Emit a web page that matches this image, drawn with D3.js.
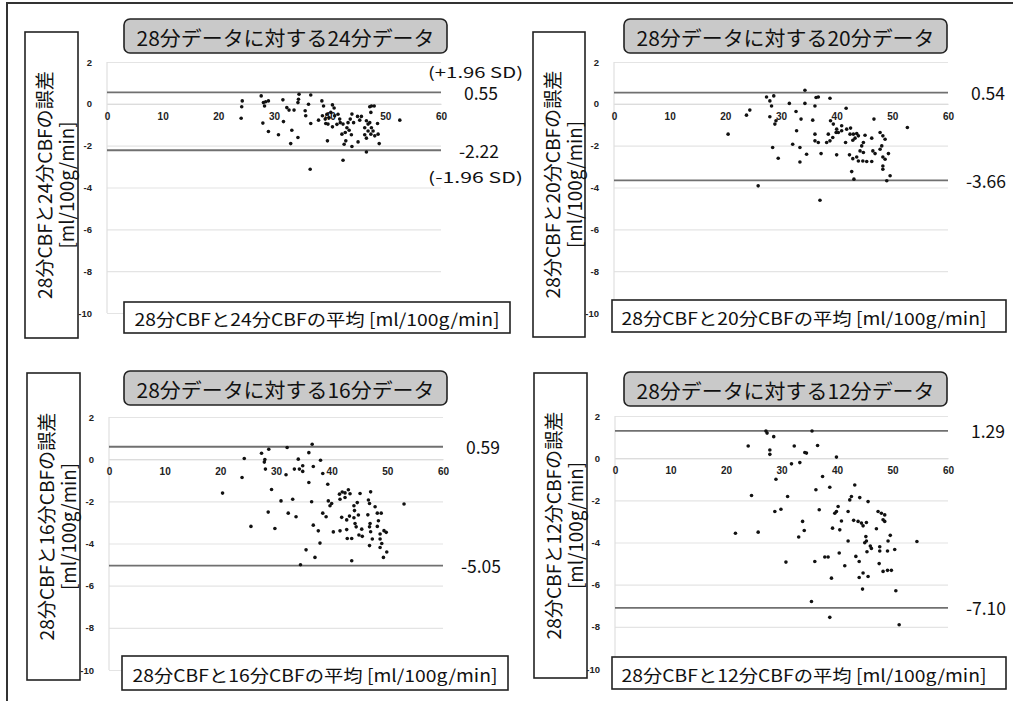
<!DOCTYPE html>
<html>
<head>
<meta charset="utf-8">
<script src="https://cdn.jsdelivr.net/npm/d3@7"></script>
<style>
  body { margin: 0; background: #fff; }
  svg { display: block; font-family: "Noto Sans CJK JP", "Noto Sans", sans-serif; }
</style>
</head>
<body>
<svg id="chart" width="1016" height="701"></svg>
<script>
// comparison data length (minutes) against the 28 min reference
const minutes = [24, 20, 16, 12];
const upperLimits = [0.55, 0.54, 0.59, 1.29];
const lowerLimits = [-2.22, -3.66, -5.05, -7.10];
const upperText = ['0.55', '0.54', '0.59', '1.29'];
const lowerText = ['-2.22', '-3.66', '-5.05', '-7.10'];
const xTicks = [0, 10, 20, 30, 40, 50, 60];
const yTicks = [2, 0, -2, -4, -6, -8, -10];

// [mean of the two CBF, difference]
const pts24 = [[24.3,0.14],[24.2,-0.14],[24.1,-0.69],[27.7,0.38],[28.1,0.06],[28.5,0.10],[29.0,0.14],[28.3,-0.10],[28.0,-0.92],[29.0,-1.32],[30.8,-1.48],[31.6,0.19],[32.3,-0.18],[32.7,-0.30],[33.6,-0.30],[31.7,-0.85],[33.2,-1.26],[34.3,-1.61],[33.0,-1.90],[34.5,0.46],[34.4,0.22],[34.3,0.06],[36.6,0.42],[36.2,-0.02],[35.6,-0.33],[35.7,-0.57],[36.6,-0.94],[36.5,-3.13],[38.6,0.14],[38.9,-0.10],[38.0,-0.78],[38.7,-0.57],[39.2,-0.73],[39.5,-0.50],[39.3,-0.94],[39.9,-0.67],[40.2,-0.41],[40.5,-0.05],[40.8,-0.20],[40.9,-0.57],[41.5,-0.50],[40.5,-1.10],[41.3,-0.98],[41.9,-0.90],[39.6,-1.77],[42.4,-0.97],[42.2,-1.45],[42.8,-1.37],[43.1,-1.14],[43.3,-0.90],[43.7,-0.73],[44.0,-0.49],[44.3,-0.90],[43.5,-1.26],[43.9,-1.48],[42.9,-1.77],[42.6,-1.93],[44.0,-2.04],[45.1,-1.82],[42.4,-2.70],[45.0,-0.60],[45.4,-0.78],[45.7,-0.60],[46.6,-0.81],[46.3,-1.14],[46.9,-1.30],[46.3,-1.48],[46.6,-1.64],[46.9,-0.97],[46.6,-2.30],[47.2,-0.14],[47.5,-0.10],[48.0,-0.10],[47.4,-0.41],[47.2,-0.90],[47.5,-1.14],[47.4,-1.45],[47.8,-1.30],[48.1,-1.53],[48.7,-1.45],[48.9,-1.90],[52.6,-0.78],[39.7,-0.97],[41.8,-0.73],[48.6,-0.94]];

const pts20 = [[34.3,0.65],[27.4,0.33],[28.7,0.38],[28.0,0.14],[28.3,-0.10],[24.4,-0.30],[23.8,-0.54],[20.5,-1.45],[28.0,-0.62],[29.1,-0.81],[28.9,-0.97],[31.5,0.02],[34.3,0.02],[36.3,0.30],[36.7,0.33],[36.1,-0.10],[38.8,0.27],[32.7,-0.37],[33.6,-0.73],[35.7,-0.78],[32.8,-1.29],[32.1,-1.93],[33.4,-2.09],[28.5,-2.09],[29.5,-2.60],[33.4,-2.78],[34.6,-2.41],[37.2,-2.38],[36.1,-1.45],[36.1,-1.77],[36.7,-1.85],[38.2,-1.85],[38.8,-1.77],[38.5,-1.45],[39.3,-1.61],[38.9,-0.81],[39.4,-0.97],[40.0,-1.21],[39.9,-1.37],[40.3,-1.37],[40.9,-1.29],[40.9,-1.05],[41.7,-0.21],[41.8,-1.21],[42.5,-1.16],[42.4,-1.45],[41.6,-1.85],[40.0,-2.44],[43.0,-1.45],[43.6,-1.42],[43.3,-1.64],[42.9,-1.74],[43.9,-1.53],[45.1,-1.50],[44.8,-1.85],[44.5,-2.01],[44.2,-2.25],[44.8,-2.33],[42.3,-2.44],[42.9,-2.62],[43.6,-2.54],[43.9,-2.73],[44.7,-2.73],[45.4,-2.76],[46.3,-2.76],[46.3,-1.64],[46.7,-0.73],[46.5,-2.25],[46.9,-2.38],[47.8,-1.37],[48.3,-1.53],[48.7,-1.69],[48.1,-2.01],[47.8,-2.17],[48.3,-2.54],[48.7,-2.65],[49.3,-2.38],[48.3,-2.97],[48.3,-3.13],[49.6,-3.44],[49.0,-3.68],[42.7,-3.24],[43.1,-3.60],[25.9,-3.92],[37.0,-4.61],[52.7,-1.13]];

const pts16 = [[24.3,0.03],[23.9,-0.87],[20.4,-1.61],[25.5,-3.19],[27.4,0.28],[28.7,0.47],[28.0,-0.02],[27.9,-0.14],[28.1,-0.47],[32.0,0.55],[31.8,-0.74],[29.2,-1.44],[30.9,-1.98],[28.6,-2.51],[29.8,-3.29],[32.2,-2.56],[33.0,-1.90],[33.6,-2.73],[34.0,0.00],[33.3,-0.47],[34.2,-0.47],[34.8,-0.31],[34.8,-0.58],[35.9,0.31],[36.5,0.71],[36.7,-0.35],[38.0,-0.05],[35.9,-1.11],[36.4,-2.02],[36.7,-3.13],[37.6,-3.40],[37.9,-3.98],[35.4,-4.30],[37.0,-4.66],[34.4,-5.01],[38.4,-0.68],[39.3,-1.19],[38.4,-2.56],[39.0,-2.73],[39.4,-1.98],[39.7,-2.21],[40.0,-2.10],[40.3,-3.45],[41.4,-1.66],[41.5,-1.90],[41.9,-1.56],[42.4,-1.60],[43.0,-1.45],[43.3,-1.64],[42.4,-1.82],[41.8,-2.76],[41.5,-3.40],[42.7,-2.88],[43.2,-2.70],[42.7,-3.34],[42.8,-3.76],[43.6,-3.76],[43.6,-4.82],[44.0,-2.21],[44.1,-2.44],[44.2,-3.05],[44.4,-3.21],[44.6,-2.06],[44.0,-2.78],[44.8,-2.65],[45.1,-1.63],[44.9,-3.60],[45.5,-3.66],[45.4,-3.32],[46.5,-2.64],[46.6,-1.94],[47.0,-1.55],[46.8,-2.10],[46.9,-3.05],[46.8,-3.21],[47.0,-3.44],[46.8,-4.10],[47.3,-3.79],[47.8,-2.26],[48.2,-2.56],[48.9,-2.56],[48.4,-2.92],[48.2,-3.19],[48.7,-3.55],[48.7,-3.79],[49.0,-4.00],[48.7,-4.19],[49.4,-3.39],[49.8,-3.47],[49.9,-4.40],[49.3,-4.66],[53.0,-2.13]];

const pts12 = [[27.2,1.29],[27.4,1.19],[28.6,1.02],[35.5,1.29],[24.0,0.58],[27.9,0.39],[27.9,0.18],[32.3,0.58],[34.2,0.27],[34.5,0.24],[36.5,0.60],[39.9,0.05],[31.8,-0.27],[33.3,-0.21],[29.0,-1.00],[37.4,-0.87],[38.7,-1.38],[36.2,-1.50],[24.6,-1.77],[31.1,-1.82],[28.8,-2.53],[29.9,-2.42],[36.8,-2.45],[21.7,-3.56],[25.8,-3.51],[33.8,-3.00],[34.1,-3.43],[33.1,-3.74],[30.8,-4.93],[36.0,-4.90],[35.4,-6.80],[38.7,-7.55],[39.0,-5.69],[37.8,-4.69],[38.4,-4.69],[39.2,-3.32],[39.6,-2.61],[39.9,-2.53],[40.2,-2.29],[40.5,-3.40],[40.8,-2.98],[40.4,-4.50],[41.4,-5.10],[42.0,-2.53],[42.0,-3.93],[42.3,-1.98],[42.6,-1.82],[43.2,-1.27],[44.1,-1.87],[45.6,-2.06],[43.0,-2.95],[43.8,-3.00],[44.4,-3.08],[44.7,-3.21],[45.3,-3.05],[43.4,-4.66],[44.0,-4.90],[44.0,-5.66],[44.7,-5.45],[45.6,-5.61],[44.6,-6.21],[45.2,-3.72],[45.3,-3.93],[45.0,-4.01],[45.4,-4.44],[46.0,-4.17],[46.2,-4.28],[47.1,-3.35],[47.4,-2.53],[48.0,-2.61],[48.3,-2.92],[48.6,-3.00],[48.6,-2.69],[47.7,-4.20],[47.7,-4.40],[47.6,-5.00],[48.3,-5.37],[49.1,-4.40],[49.2,-3.93],[49.6,-3.66],[49.1,-5.32],[49.8,-5.32],[50.4,-4.33],[50.6,-6.29],[51.2,-7.90],[54.4,-3.95]];

const panelPoints = [pts24, pts20, pts16, pts12];

// where each panel sits on the page
const layout = [
  { x0: 107, x1: 441, yt: 62,  yb: 313, tb: [124, 19, 323, 34],  yl: [25, 32, 53, 306],  xl: [124, 302, 386, 31] },
  { x0: 614, x1: 948, yt: 62,  yb: 313, tb: [624, 19, 323, 34],  yl: [533, 32, 52, 305], xl: [612, 300, 394, 32] },
  { x0: 109, x1: 443, yt: 417, yb: 670, tb: [124, 371, 323, 34], yl: [27, 373, 53, 307], xl: [122, 656, 386, 34] },
  { x0: 615, x1: 948, yt: 416, yb: 669, tb: [624, 372, 323, 34], yl: [534, 373, 53, 305], xl: [612, 657, 394, 32] }
];

const svg = d3.select('#chart');

// outer frame (only top and left edges show in the picture)
svg.append('path')
  .attr('d', 'M7,701 L7,3 L1013,3')
  .attr('fill', 'none')
  .attr('stroke', '#333')
  .attr('stroke-width', 2);

minutes.forEach((m, i) => drawPanel(i, m));

function drawPanel(i, m) {
  const L = layout[i];
  const g = svg.append('g').attr('class', 'panel');
  const x = d3.scaleLinear().domain([0, 60]).range([L.x0, L.x1]);
  const y = d3.scaleLinear().domain([2, -10]).range([L.yt, L.yb]);

  // horizontal gridlines + y tick labels
  const yAxis = g.append('g')
    .attr('transform', `translate(${L.x0},0)`)
    .call(d3.axisLeft(y).tickValues(yTicks).tickSize(-(L.x1 - L.x0)).tickPadding(15).tickFormat(d => String(d)));
  yAxis.select('.domain').remove();
  yAxis.selectAll('line').attr('stroke', '#e4e4e4').attr('stroke-width', 1.2);
  yAxis.selectAll('text')
    .attr('fill', '#222')
    .style('font-family', '"Liberation Sans", Arial, sans-serif')
    .style('font-size', '9.5px')
    .style('font-weight', 'bold');

  // left edge of plot area
  g.append('line')
    .attr('x1', L.x0).attr('x2', L.x0)
    .attr('y1', L.yt).attr('y2', L.yb)
    .attr('stroke', '#e0e0e0').attr('stroke-width', 1.2);

  // x axis through zero
  const xAxis = g.append('g')
    .attr('transform', `translate(0,${y(0)})`)
    .call(d3.axisBottom(x).tickValues(xTicks).tickSize(0).tickPadding(9).tickFormat(d => String(d)));
  xAxis.select('.domain').attr('stroke', '#dcdcdc').attr('stroke-width', 1.2);
  xAxis.selectAll('text')
    .attr('fill', '#222')
    .style('font-family', '"Liberation Sans", Arial, sans-serif')
    .style('font-size', '10px')
    .style('font-weight', 'bold');

  // limits of agreement
  [upperLimits[i], lowerLimits[i]].forEach(v => {
    g.append('line')
      .attr('x1', x(0)).attr('x2', x(60))
      .attr('y1', y(v)).attr('y2', y(v))
      .attr('stroke', '#707070').attr('stroke-width', 1.8);
  });

  // points
  g.append('g').selectAll('circle')
    .data(panelPoints[i])
    .enter().append('circle')
    .attr('cx', d => x(d[0]))
    .attr('cy', d => y(d[1]))
    .attr('r', 1.8)
    .attr('fill', '#111');

  // limit values at the right
  g.append('text')
    .attr('x', L.x1 + 57).attr('y', y(upperLimits[i]))
    .attr('text-anchor', 'end').attr('dominant-baseline', 'central')
    .style('font-size', '17.5px').attr('fill', '#111')
    .text(upperText[i]);
  g.append('text')
    .attr('x', L.x1 + 58).attr('y', y(lowerLimits[i]))
    .attr('text-anchor', 'end').attr('dominant-baseline', 'central')
    .style('font-size', '17.5px').attr('fill', '#111')
    .text(lowerText[i]);

  if (i === 0) {
    g.append('text')
      .attr('x', 428).attr('y', y(upperLimits[i]) - 21)
      .attr('dominant-baseline', 'central')
      .style('font-size', '15px').attr('fill', '#111')
      .attr('textLength', 95).attr('lengthAdjust', 'spacingAndGlyphs')
      .text('(+1.96 SD)');
    g.append('text')
      .attr('x', 428).attr('y', y(lowerLimits[i]) + 26)
      .attr('dominant-baseline', 'central')
      .style('font-size', '15px').attr('fill', '#111')
      .attr('textLength', 95).attr('lengthAdjust', 'spacingAndGlyphs')
      .text('(-1.96 SD)');
  }

  // title box
  const [tx, ty, tw, th] = L.tb;
  g.append('rect')
    .attr('x', tx).attr('y', ty).attr('width', tw).attr('height', th)
    .attr('rx', 6)
    .attr('fill', '#c9c9c9').attr('stroke', '#222').attr('stroke-width', 1.6);
  g.append('text')
    .attr('x', tx + tw / 2).attr('y', ty + th / 2 + 1)
    .attr('text-anchor', 'middle').attr('dominant-baseline', 'central')
    .style('font-size', '20px').attr('fill', '#111')
    .attr('textLength', 298).attr('lengthAdjust', 'spacingAndGlyphs')
    .text(`28分データに対する${m}分データ`);

  // y label box
  const [lx, ly, lw, lh] = L.yl;
  g.append('rect')
    .attr('x', lx).attr('y', ly).attr('width', lw).attr('height', lh)
    .attr('fill', '#fff').attr('stroke', '#222').attr('stroke-width', 1.6);
  const yl = g.append('g')
    .attr('transform', `translate(${lx + lw / 2},${ly + lh / 2}) rotate(-90)`);
  yl.append('text')
    .attr('x', 0).attr('y', -8)
    .attr('text-anchor', 'middle').attr('dominant-baseline', 'central')
    .style('font-size', '19px').attr('fill', '#111')
    .attr('textLength', 228).attr('lengthAdjust', 'spacingAndGlyphs')
    .text(`28分CBFと${m}分CBFの誤差`);
  yl.append('text')
    .attr('x', 0).attr('y', 14)
    .attr('text-anchor', 'middle').attr('dominant-baseline', 'central')
    .style('font-size', '19px').attr('fill', '#111')
    .attr('textLength', 127).attr('lengthAdjust', 'spacingAndGlyphs')
    .text('[ml/100g/min]');

  // x label box (covers the bottom of the plot)
  const [bx, by, bw, bh] = L.xl;
  g.append('rect')
    .attr('x', bx).attr('y', by).attr('width', bw).attr('height', bh)
    .attr('fill', '#fff').attr('stroke', '#222').attr('stroke-width', 1.6);
  g.append('text')
    .attr('x', bx + bw / 2 - (bw > 390 ? 5 : 0)).attr('y', by + bh / 2 + 1)
    .attr('text-anchor', 'middle').attr('dominant-baseline', 'central')
    .style('font-size', '17px').attr('fill', '#111')
    .attr('textLength', 365).attr('lengthAdjust', 'spacingAndGlyphs')
    .text(`28分CBFと${m}分CBFの平均 [ml/100g/min]`);
}
</script>
</body>
</html>
